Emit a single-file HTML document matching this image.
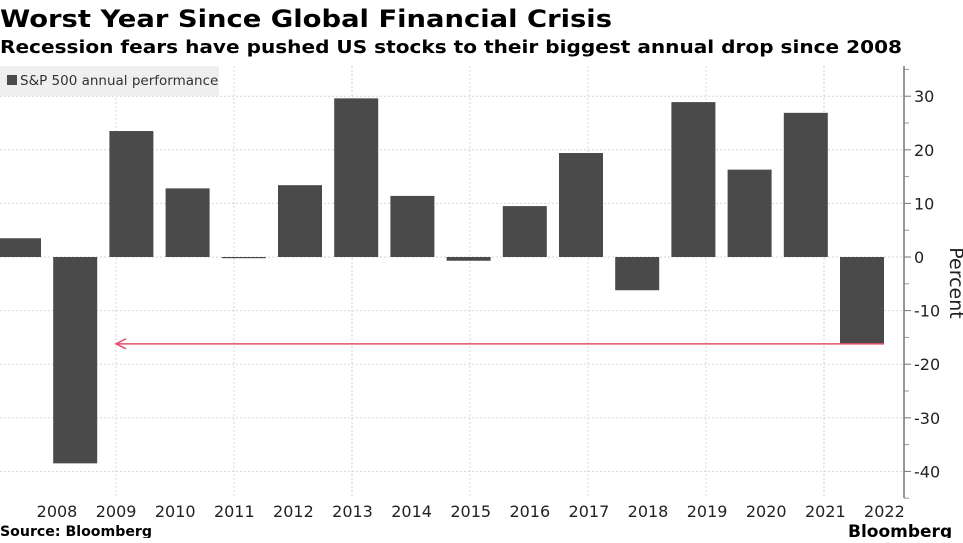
<!DOCTYPE html>
<html><head><meta charset="utf-8"><style>
body{margin:0;background:#fff;width:963px;height:538px;overflow:hidden}
svg text{font-family:"DejaVu Sans","Liberation Sans",sans-serif}
</style></head><body>
<svg id="c" width="963" height="538">
<text x="0" y="27" font-size="24" font-weight="bold" textLength="612" lengthAdjust="spacingAndGlyphs">Worst Year Since Global Financial Crisis</text>
<text x="0" y="53" font-size="18" font-weight="bold" textLength="902" lengthAdjust="spacingAndGlyphs">Recession fears have pushed US stocks to their biggest annual drop since 2008</text>
<g id="grid"></g>
<g id="bars"></g>
<g id="axis"></g>
<rect x="0" y="66" width="219" height="30" fill="#efefef"/>
<rect x="7" y="75" width="10" height="10" fill="#4a4a4a"/>
<text x="20" y="85" font-size="13.5" fill="#333">S&amp;P 500 annual performance</text>
<text x="0" y="536" font-size="14" font-weight="bold" textLength="152" lengthAdjust="spacingAndGlyphs">Source: Bloomberg</text>
<text x="848" y="537" font-size="17" font-weight="bold">Bloomberg</text>
<text transform="translate(950,283) rotate(90)" font-size="19" text-anchor="middle" fill="#222">Percent</text>
</svg>
<script>
const years=[2007,2008,2009,2010,2011,2012,2013,2014,2015,2016,2017,2018,2019,2020,2021,2022];
const values=[3.5,-38.5,23.5,12.8,0.0,13.4,29.6,11.4,-0.7,9.5,19.4,-6.2,28.9,16.3,26.9,-16.2];
const yTicks=[30,20,10,0,-10,-20,-30,-40];
const xLabels=[2008,2009,2010,2011,2012,2013,2014,2015,2016,2017,2018,2019,2020,2021,2022];
const NS='http://www.w3.org/2000/svg';
const y=v=>257-v*5.36;
const barX=i=>19+i*56.2;
const labX=yr=>57+(yr-2008)*59.1;
function mk(t,a,p){const e=document.createElementNS(NS,t);for(const k in a)e.setAttribute(k,a[k]);p.appendChild(e);return e;}
const g=document.getElementById('grid'),b=document.getElementById('bars'),ax=document.getElementById('axis');
yTicks.forEach(v=>{
 const l=mk('line',{x1:0,x2:904,y1:y(v),y2:y(v),stroke:'#d6d6d6','stroke-dasharray':'2,2'},g);
 
 
 const t=mk('line',{x1:904,x2:911,y1:y(v),y2:y(v),stroke:'#777'},ax);
 
 
 const tx=mk('text',{x:914,y:y(v)+6,'font-size':16,fill:'#222'},ax);
 tx.textContent=v<0?'-'+(-v):String(v);
 
 
});
for(let v=-45;v<=35;v+=10){const m=mk('line',{x1:904,x2:909,y1:y(v),y2:y(v),stroke:'#999'},ax);
 
 }
for(let i=0;i<7;i++){const x=116+i*118;const l=mk('line',{x1:x,x2:x,y1:66,y2:497,stroke:'#d6d6d6','stroke-dasharray':'2,2'},g);
 
 }
const al=mk('line',{x1:904,x2:904,y1:66,y2:498,stroke:'#777','stroke-width':1.5},ax);


values.forEach((v,i)=>{
 const h=Math.max(Math.abs(y(v)-y(0)),1.2);
 const r=mk('rect',{x:barX(i)-22,y:Math.min(y(v),y(0)),width:44,height:h,fill:'#4a4a4a'},b);
 
 
});
xLabels.forEach(yr=>{
 const t=mk('text',{x:labX(yr),y:517,'font-size':16,'text-anchor':'middle',fill:'#222'},ax);
 t.textContent=yr;
 
 
});
const ry=y(values[values.length-1]);
const rl=mk('line',{x1:118,x2:884,y1:ry,y2:ry,stroke:'#e8506a','stroke-width':1.5},b);


const ah=mk('path',{d:`M126,${ry-5} L116,${ry} L126,${ry+5}`,fill:'none',stroke:'#e8506a','stroke-width':1.5},b);


</script>
</body></html>
